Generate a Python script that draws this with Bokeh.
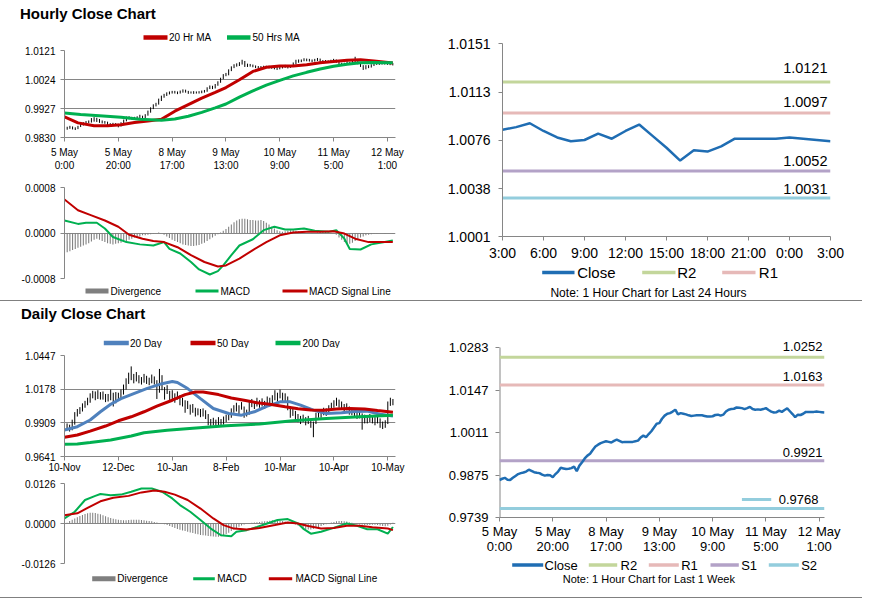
from bokeh.plotting import figure
from bokeh.models import Range1d, FixedTicker, Div, NumeralTickFormatter
from bokeh.layouts import column, row
from bokeh.embed import file_html
from bokeh.resources import INLINE
from bokeh.core.properties import value

FONT = "Liberation Sans"
AXIS = "#868686"
RED = "#C00000"
GREEN = "#00B050"
BLUE = "#4F81BD"
GRAY = "#7F7F7F"
CLOSE_BLUE = "#1F6DB3"
R2C, R1C, S1C, S2C = "#C3D69B", "#E6B9B8", "#B3A2C7", "#93CDDD"

# ---------------- hourly data (5 May 0:00 .. 12 May 3:00) ----------------
hourly_tick_idx = [0, 20, 40, 60, 80, 100, 120]
hourly_tick_labels = ["5 May\n0:00", "5 May\n20:00", "8 May\n17:00", "9 May\n13:00",
                      "10 May\n9:00", "11 May\n5:00", "12 May\n1:00"]
hourly_close = [
    0.9859, 0.9863, 0.9866, 0.9860, 0.9859, 0.9866, 0.9872, 0.9878, 0.9881, 0.9883,
    0.9886, 0.9892, 0.9888, 0.9884, 0.9882, 0.9881, 0.9876, 0.9873, 0.9875, 0.9874,
    0.9868, 0.9878, 0.9886, 0.9898, 0.9896, 0.9894, 0.9895, 0.9897, 0.9902, 0.9887,
    0.9905, 0.9916, 0.9928, 0.9937, 0.9943, 0.9955, 0.9966, 0.9972, 0.9977, 0.9980,
    0.9983, 0.9981, 0.9979, 0.9984, 0.9988, 0.9984, 0.9980, 0.9981, 0.9981, 0.9981,
    0.9981, 0.9983, 0.9985, 0.9995, 1.0001, 0.9996, 1.0006, 1.0015, 1.0027, 1.0039,
    1.0041, 1.0055, 1.0065, 1.0071, 1.0073, 1.0078, 1.0084, 1.0069, 1.0073, 1.0071,
    1.0069, 1.0066, 1.0064, 1.0065, 1.0066, 1.0066, 1.0066, 1.0064, 1.0062, 1.0062,
    1.0063, 1.0067, 1.0068, 1.0065, 1.0068, 1.0078, 1.0084, 1.0086, 1.0087, 1.0091,
    1.0090, 1.0089, 1.0086, 1.0089, 1.0093, 1.0086, 1.0084, 1.0085, 1.0084, 1.0086,
    1.0089, 1.0083, 1.0078, 1.0075, 1.0076, 1.0081, 1.0077, 1.0083, 1.0088, 1.0079,
    1.0070, 1.0060, 1.0068, 1.0067, 1.0071, 1.0077, 1.0077, 1.0077, 1.0077, 1.0078,
    1.0077, 1.0076, 1.0075]
hourly_high = [
    0.9863, 0.9866, 0.9869, 0.9867, 0.9864, 0.9869, 0.9876, 0.9881, 0.9885, 0.9887,
    0.9895, 0.9898, 0.9896, 0.9892, 0.9887, 0.9885, 0.9883, 0.9878, 0.9879, 0.9878,
    0.9876, 0.9881, 0.9890, 0.9900, 0.9901, 0.9899, 0.9899, 0.9901, 0.9906, 0.9903,
    0.9908, 0.9920, 0.9931, 0.9941, 0.9946, 0.9960, 0.9970, 0.9976, 0.9981, 0.9984,
    0.9986, 0.9986, 0.9984, 0.9987, 0.9991, 0.9990, 0.9986, 0.9984, 0.9985, 0.9984,
    0.9985, 0.9987, 0.9989, 0.9998, 1.0004, 1.0003, 1.0009, 1.0018, 1.0030, 1.0042,
    1.0046, 1.0058, 1.0068, 1.0075, 1.0078, 1.0082, 1.0090, 1.0086, 1.0077, 1.0076,
    1.0074, 1.0071, 1.0069, 1.0069, 1.0070, 1.0070, 1.0070, 1.0069, 1.0067, 1.0066,
    1.0067, 1.0071, 1.0073, 1.0070, 1.0072, 1.0081, 1.0090, 1.0091, 1.0091, 1.0095,
    1.0094, 1.0093, 1.0091, 1.0093, 1.0096, 1.0094, 1.0089, 1.0089, 1.0088, 1.0090,
    1.0093, 1.0091, 1.0085, 1.0080, 1.0080, 1.0085, 1.0083, 1.0087, 1.0100, 1.0090,
    1.0081, 1.0072, 1.0072, 1.0072, 1.0075, 1.0080, 1.0081, 1.0080, 1.0081, 1.0081,
    1.0081, 1.0080, 1.0079]
hourly_low = [
    0.9852, 0.9856, 0.9859, 0.9857, 0.9855, 0.9858, 0.9865, 0.9870, 0.9875, 0.9878,
    0.9880, 0.9883, 0.9882, 0.9879, 0.9877, 0.9876, 0.9872, 0.9869, 0.9870, 0.9869,
    0.9864, 0.9867, 0.9877, 0.9884, 0.9891, 0.9890, 0.9891, 0.9892, 0.9895, 0.9884,
    0.9886, 0.9903, 0.9913, 0.9925, 0.9934, 0.9940, 0.9952, 0.9963, 0.9969, 0.9974,
    0.9977, 0.9977, 0.9975, 0.9977, 0.9980, 0.9980, 0.9976, 0.9977, 0.9976, 0.9977,
    0.9977, 0.9978, 0.9980, 0.9983, 0.9992, 0.9992, 0.9994, 1.0003, 1.0013, 1.0025,
    1.0035, 1.0038, 1.0052, 1.0062, 1.0067, 1.0069, 1.0074, 1.0066, 1.0066, 1.0067,
    1.0065, 1.0062, 1.0060, 1.0061, 1.0062, 1.0062, 1.0061, 1.0060, 1.0058, 1.0056,
    1.0058, 1.0061, 1.0063, 1.0061, 1.0063, 1.0066, 1.0075, 1.0080, 1.0082, 1.0085,
    1.0085, 1.0084, 1.0082, 1.0084, 1.0086, 1.0082, 1.0080, 1.0080, 1.0079, 1.0081,
    1.0083, 1.0080, 1.0074, 1.0071, 1.0072, 1.0074, 1.0073, 1.0075, 1.0080, 1.0075,
    1.0066, 1.0056, 1.0058, 1.0062, 1.0064, 1.0069, 1.0073, 1.0073, 1.0074, 1.0074,
    1.0073, 1.0072, 1.0071]
ma20_h_x = [0, 5, 11, 16, 21, 26, 31, 36, 41, 46, 51, 56, 60, 65, 70, 75, 80, 85, 90, 95,
            100, 105, 110, 115, 122]
ma20_h = [0.9899, 0.9879, 0.9869, 0.9869, 0.9873, 0.9880, 0.9885, 0.9891, 0.9918, 0.9940,
          0.9962, 0.9981, 0.9997, 1.0023, 1.0051, 1.0065, 1.0069, 1.0069, 1.0073, 1.0080,
          1.0084, 1.0088, 1.0090, 1.0086, 1.0079]
ma50_h_x = [0, 6, 13, 21, 28, 36, 41, 46, 51, 56, 60, 65, 70, 75, 80, 85, 90, 95, 100, 105,
            110, 115, 122]
ma50_h = [0.9912, 0.9907, 0.9903, 0.9898, 0.9891, 0.9888, 0.9892, 0.9901, 0.9914, 0.9929,
          0.9942, 0.9965, 0.9986, 1.0005, 1.0021, 1.0036, 1.0048, 1.0059, 1.0068, 1.0075,
          1.0080, 1.0081, 1.0080]
macd_h_x = [0, 5, 8, 12, 15, 18, 23, 28, 33, 37, 39, 43, 47, 50, 54, 57, 59, 62, 65, 70,
            74, 78, 82, 85, 89, 93, 98, 101, 104, 106, 110, 114, 119, 122]
macd_h = [0.00022, 0.00016, 0.00018, 0.00018, 0.00008, -0.00007, -0.00016, -0.00020,
          -0.00022, -0.00016, -0.00028, -0.00036, -0.00051, -0.00064, -0.00073, -0.00067,
          -0.00057, -0.00039, -0.00022, -0.00011, 0.00005, 0.00011, 0.00006, 0.00006,
          0.00008, 0.00004, 0.00002, 0.00005, -0.00010, -0.00028, -0.00029, -0.00020,
          -0.00016, -0.00013]
sig_h_x = [0, 5, 10, 15, 20, 24, 29, 33, 37, 42, 47, 52, 57, 60, 65, 70, 75, 80, 85, 90,
           95, 100, 104, 108, 113, 122]
sig_h = [0.00059, 0.00040, 0.00031, 0.00022, 0.00011, -0.00003, -0.00010, -0.00014,
         -0.00016, -0.00025, -0.00039, -0.00051, -0.00059, -0.00057, -0.00045, -0.00030,
         -0.00016, -0.00004, 0.00001, 0.00002, 0.00002, 0.00003, -0.00001, -0.00010,
         -0.00016, -0.00016]
div_h = [
    -0.00036, -0.00034, -0.00032, -0.00030, -0.00028, -0.00026, -0.00024, -0.00022, -0.00020, -0.00018,
    -0.00015, -0.00012, -0.00010, -0.00012, -0.00014, -0.00016, -0.00018, -0.00019, -0.00020, -0.00019,
    -0.00018, -0.00017, -0.00016, -0.00014, -0.00012, -0.00010, -0.00008, -0.00007, -0.00006, -0.00004,
    -0.00004, -0.00003, -0.00002, -0.00001, 0.00000, 0.00001, 0.00000, -0.00003, -0.00006, -0.00009,
    -0.00012, -0.00014, -0.00016, -0.00018, -0.00020, -0.00021, -0.00022, -0.00023, -0.00023, -0.00022,
    -0.00021, -0.00019, -0.00017, -0.00014, -0.00011, -0.00008, -0.00005, -0.00002, 0.00001, 0.00004,
    0.00007, 0.00011, 0.00015, 0.00019, 0.00022, 0.00024, 0.00025, 0.00025, 0.00024, 0.00023,
    0.00023, 0.00022, 0.00022, 0.00023, 0.00021, 0.00018, 0.00015, 0.00011, 0.00008, 0.00005,
    0.00003, 0.00002, 0.00003, 0.00004, 0.00005, 0.00005, 0.00004, 0.00003, 0.00002, 0.00001,
    0.00000, 0.00000, -0.00001, 0.00000, 0.00001, 0.00002, 0.00002, 0.00002, 0.00001, 0.00000,
    0.00000, -0.00003, -0.00008, -0.00012, -0.00016, -0.00018, -0.00019, -0.00017, -0.00014, -0.00011,
    -0.00008, -0.00006, -0.00004, -0.00003, -0.00002, -0.00001, -0.00001, 0.00000, 0.00000, -0.00001,
    0.00000, 0.00000, -0.00001]

# ---------------- last 24 hours / last week levels ----------------
last24_labels = ["3:00", "6:00", "9:00", "12:00", "15:00", "18:00", "21:00", "0:00", "3:00"]
last24_close = [1.0084, 1.0086, 1.0089, 1.0083, 1.0078, 1.0075, 1.0076, 1.0081, 1.0077,
                1.0083, 1.0088, 1.0079, 1.0070, 1.0060, 1.0068, 1.0067, 1.0071, 1.0077,
                1.0077, 1.0077, 1.0077, 1.0078, 1.0077, 1.0076, 1.0075]
day_y_labels = ["1.0001", "1.0038", "1.0076", "1.0113", "1.0151"]
day_levels = {"R2": 1.0121, "R1": 1.0097, "S1": 1.0052, "S2": 1.0031}
week_y_labels = ["0.9739", "0.9875", "1.0011", "1.0147", "1.0283"]
week_levels = {"R2": 1.0252, "R1": 1.0163, "S1": 0.9921, "S2": 0.9768}

# ---------------- daily data (10 Nov .. 12 May) ----------------
daily_tick_idx = [0, 21, 42, 63, 84, 105, 126]
daily_tick_labels = ["10-Nov", "12-Dec", "10-Jan", "8-Feb", "10-Mar", "10-Apr", "10-May"]
daily_close = [
    0.9870, 0.9880, 0.9860, 0.9905, 0.9975, 0.9990, 1.0010, 1.0040, 1.0060, 1.0085,
    1.0120, 1.0140, 1.0125, 1.0150, 1.0120, 1.0135, 1.0100, 1.0110, 1.0150, 1.0080,
    1.0130, 1.0115, 1.0150, 1.0190, 1.0240, 1.0270, 1.0300, 1.0260, 1.0285, 1.0255,
    1.0245, 1.0270, 1.0250, 1.0240, 1.0265, 1.0250, 1.0160, 1.0280, 1.0200, 1.0150,
    1.0180, 1.0120, 1.0140, 1.0110, 1.0130, 1.0085, 1.0080, 1.0040, 1.0060, 1.0010,
    1.0030, 0.9990, 1.0000, 0.9985, 0.9995, 0.9975, 0.9930, 0.9910, 0.9920, 0.9900,
    0.9925, 0.9905, 0.9930, 0.9945, 0.9960, 0.9995, 1.0020, 1.0040, 1.0010, 1.0050,
    0.9975, 0.9990, 1.0050, 1.0070, 1.0045, 1.0080, 1.0060, 1.0075, 1.0050, 1.0090,
    1.0070, 1.0100, 1.0130, 1.0115, 1.0145, 1.0110, 1.0120, 1.0040, 0.9985, 1.0000,
    0.9960, 0.9950, 0.9930, 0.9945, 0.9920, 0.9935, 0.9905, 0.9840, 0.9960, 0.9980,
    0.9975, 1.0000, 0.9995, 1.0020, 1.0040, 1.0060, 1.0080, 1.0060, 1.0050, 1.0025,
    1.0040, 1.0005, 1.0000, 0.9985, 0.9970, 0.9980, 0.9890, 0.9945, 0.9935, 0.9950,
    0.9935, 0.9920, 0.9940, 0.9900, 0.9880, 0.9905, 1.0050, 1.0090, 1.0080]
daily_high = [
    0.9900, 0.9905, 0.9895, 0.9935, 0.9995, 1.0020, 1.0035, 1.0065, 1.0085, 1.0110,
    1.0145, 1.0165, 1.0160, 1.0170, 1.0155, 1.0160, 1.0140, 1.0140, 1.0175, 1.0150,
    1.0155, 1.0150, 1.0175, 1.0215, 1.0265, 1.0310, 1.0360, 1.0300, 1.0315, 1.0290,
    1.0275, 1.0300, 1.0285, 1.0270, 1.0295, 1.0280, 1.0250, 1.0340, 1.0290, 1.0195,
    1.0210, 1.0165, 1.0170, 1.0145, 1.0160, 1.0130, 1.0110, 1.0090, 1.0085, 1.0055,
    1.0060, 1.0030, 1.0025, 1.0020, 1.0025, 1.0010, 0.9980, 0.9940, 0.9950, 0.9935,
    0.9955, 0.9940, 0.9960, 0.9975, 0.9990, 1.0025, 1.0050, 1.0070, 1.0050, 1.0075,
    1.0040, 1.0015, 1.0080, 1.0100, 1.0080, 1.0110, 1.0090, 1.0105, 1.0085, 1.0120,
    1.0110, 1.0130, 1.0170, 1.0150, 1.0175, 1.0150, 1.0145, 1.0120, 1.0040, 1.0030,
    1.0005, 0.9980, 0.9965, 0.9975, 0.9955, 0.9965, 0.9935, 0.9920, 0.9990, 1.0010,
    1.0005, 1.0030, 1.0025, 1.0050, 1.0070, 1.0090, 1.0110, 1.0095, 1.0080, 1.0060,
    1.0065, 1.0040, 1.0030, 1.0015, 1.0000, 1.0010, 0.9985, 0.9975, 0.9965, 0.9980,
    0.9970, 0.9955, 0.9970, 0.9945, 0.9920, 0.9930, 1.0080, 1.0110, 1.0100]
daily_low = [
    0.9845, 0.9850, 0.9840, 0.9850, 0.9895, 0.9960, 0.9980, 1.0000, 1.0030, 1.0050,
    1.0070, 1.0105, 1.0090, 1.0100, 1.0095, 1.0095, 1.0075, 1.0080, 1.0090, 1.0040,
    1.0065, 1.0090, 1.0100, 1.0135, 1.0175, 1.0220, 1.0250, 1.0225, 1.0240, 1.0225,
    1.0215, 1.0230, 1.0220, 1.0210, 1.0225, 1.0215, 1.0100, 1.0150, 1.0170, 1.0095,
    1.0140, 1.0080, 1.0100, 1.0070, 1.0095, 1.0050, 1.0040, 0.9990, 1.0020, 0.9975,
    0.9990, 0.9960, 0.9970, 0.9955, 0.9960, 0.9940, 0.9890, 0.9880, 0.9890, 0.9870,
    0.9885, 0.9880, 0.9895, 0.9915, 0.9930, 0.9950, 0.9990, 1.0000, 0.9980, 1.0015,
    0.9950, 0.9960, 0.9975, 1.0035, 1.0020, 1.0040, 1.0030, 1.0040, 1.0020, 1.0045,
    1.0040, 1.0060, 1.0090, 1.0080, 1.0105, 1.0085, 1.0085, 1.0010, 0.9950, 0.9965,
    0.9930, 0.9915, 0.9900, 0.9915, 0.9890, 0.9900, 0.9870, 0.9795, 0.9900, 0.9950,
    0.9950, 0.9970, 0.9965, 0.9990, 1.0005, 1.0030, 1.0045, 1.0030, 1.0020, 0.9995,
    1.0010, 0.9975, 0.9970, 0.9955, 0.9940, 0.9945, 0.9855, 0.9905, 0.9905, 0.9915,
    0.9905, 0.9890, 0.9905, 0.9870, 0.9860, 0.9870, 0.9900, 1.0045, 1.0050]
ma20_d_x = [0, 5, 10, 14, 18, 22, 27, 32, 38, 42, 44, 48, 53, 58, 64, 69, 74, 79, 84, 88,
            92, 97, 102, 108, 113, 118, 123, 128]
ma20_d = [0.9852, 0.9879, 0.9932, 0.9998, 1.0058, 1.0103, 1.0143, 1.0183, 1.0222, 1.0240,
          1.0232, 1.0183, 1.0103, 1.0024, 0.9984, 0.9971, 0.9998, 1.0043, 1.0077, 1.0077,
          1.0051, 1.0011, 0.9984, 0.9990, 1.0000, 1.0003, 0.9978, 0.9965]
ma50_d_x = [0, 5, 10, 16, 21, 26, 31, 36, 42, 47, 51, 54, 60, 65, 70, 75, 80, 86, 91, 96,
            101, 106, 111, 117, 122, 128]
ma50_d = [0.9794, 0.9813, 0.9844, 0.9884, 0.9926, 0.9958, 0.9998, 1.0043, 1.0090, 1.0135,
          1.0156, 1.0156, 1.0135, 1.0108, 1.0090, 1.0070, 1.0058, 1.0038, 1.0022, 1.0013,
          1.0011, 1.0020, 1.0024, 1.0020, 1.0008, 0.9995]
ma200_d_x = [0, 5, 10, 18, 26, 31, 40, 50, 63, 76, 89, 102, 115, 128]
ma200_d = [0.9739, 0.9741, 0.9752, 0.9773, 0.9805, 0.9831, 0.9850, 0.9866, 0.9886, 0.9900,
           0.9926, 0.9945, 0.9958, 0.9971]
macd_d_x = [0, 4, 8, 12, 14, 18, 22, 26, 30, 34, 38, 42, 45, 49, 53, 57, 61, 65, 67, 71,
            75, 79, 83, 87, 91, 93, 96, 100, 104, 108, 110, 114, 118, 122, 126, 128]
macd_d = [0.0016, 0.0037, 0.0074, 0.0087, 0.0093, 0.0089, 0.0091, 0.0100, 0.0110, 0.0110,
          0.0100, 0.0079, 0.0058, 0.0037, 0.0011, -0.0016, -0.0037, -0.0040, -0.0026, -0.0021,
          -0.0011, 0.0000, 0.0011, 0.0014, 0.0000, -0.0016, -0.0032, -0.0026, -0.0016, -0.0005,
          0.0000, -0.0007, -0.0018, -0.0018, -0.0032, -0.0011]
sig_d_x = [0, 5, 9, 14, 19, 25, 30, 35, 39, 43, 48, 53, 58, 62, 66, 71, 76, 82, 87, 91,
           95, 100, 105, 110, 115, 120, 126, 128]
sig_d = [0.0026, 0.0032, 0.0049, 0.0070, 0.0081, 0.0087, 0.0098, 0.0104, 0.0100, 0.0091,
         0.0074, 0.0047, 0.0016, -0.0005, -0.0016, -0.0019, -0.0014, -0.0005, 0.0003, 0.0000,
         -0.0008, -0.0016, -0.0014, -0.0007, -0.0007, -0.0012, -0.0016, -0.0021]
div_d = [
    -0.0006, 0.0002, 0.0008, 0.0012, 0.0016, 0.0020, 0.0024, 0.0027, 0.0030, 0.0032,
    0.0034, 0.0034, 0.0033, 0.0031, 0.0029, 0.0026, 0.0023, 0.0020, 0.0017, 0.0015,
    0.0013, 0.0012, 0.0011, 0.0010, 0.0010, 0.0011, 0.0012, 0.0012, 0.0012, 0.0012,
    0.0011, 0.0010, 0.0009, 0.0008, 0.0007, 0.0005, 0.0003, 0.0001, 0.0000, -0.0002,
    -0.0005, -0.0008, -0.0011, -0.0014, -0.0017, -0.0020, -0.0022, -0.0024, -0.0026, -0.0028,
    -0.0030, -0.0032, -0.0034, -0.0036, -0.0037, -0.0038, -0.0039, -0.0040, -0.0041, -0.0042,
    -0.0042, -0.0040, -0.0037, -0.0033, -0.0029, -0.0024, -0.0019, -0.0014, -0.0010, -0.0006,
    -0.0003, -0.0001, 0.0001, 0.0002, 0.0003, 0.0004, 0.0005, 0.0006, 0.0007, 0.0008,
    0.0009, 0.0010, 0.0010, 0.0010, 0.0009, 0.0008, 0.0006, 0.0004, 0.0002, 0.0000,
    -0.0003, -0.0006, -0.0010, -0.0014, -0.0017, -0.0019, -0.0019, -0.0017, -0.0014, -0.0011,
    -0.0008, -0.0005, -0.0002, 0.0001, 0.0003, 0.0005, 0.0007, 0.0008, 0.0008, 0.0007,
    0.0006, 0.0004, 0.0002, 0.0000, -0.0002, -0.0003, -0.0004, -0.0005, -0.0005, -0.0005,
    -0.0004, -0.0004, -0.0005, -0.0006, -0.0008, -0.0009, -0.0007, -0.0003, 0.0002]

hourly_price_ticks = [0.9830, 0.9927, 1.0024, 1.0121]
hourly_macd_ticks = [-0.0008, 0.0, 0.0008]
daily_price_ticks = [0.9641, 0.9909, 1.0178, 1.0447]
daily_macd_ticks = [-0.0126, 0.0, 0.0126]


# ---------------- helpers ----------------
def base_fig(w, h, xr, yr, left, right, top, bottom):
    p = figure(width=w, height=h, x_range=xr, y_range=yr, output_backend="svg",
               toolbar_location=None, min_border_left=left, min_border_right=right,
               min_border_top=top, min_border_bottom=bottom)
    p.outline_line_color = None
    p.background_fill_color = "white"
    p.border_fill_color = "white"
    p.xgrid.grid_line_color = None
    p.ygrid.grid_line_color = None
    for ax in (p.xaxis[0], p.yaxis[0]):
        ax.axis_line_color = AXIS
        ax.major_tick_line_color = AXIS
        ax.minor_tick_line_color = None
        ax.major_tick_in = 0
        ax.major_tick_out = 4
        ax.major_label_text_font = FONT
        ax.major_label_text_color = "black"
    return p


def strip(w, h, fx0, fx1):
    # axis-free strip; its frame lines up with the charts' frames (fx0..fx1 in column pixels),
    # so x data = column pixels and y data = pixels from the strip top
    s = figure(width=w, height=h, x_range=Range1d(fx0, fx1), y_range=Range1d(h, 0),
               x_axis_location=None, y_axis_location=None,
               output_backend="svg", toolbar_location=None,
               min_border_left=fx0, min_border_right=w - fx1, min_border_top=0, min_border_bottom=0)
    s.grid.grid_line_color = None
    s.outline_line_color = None
    s.background_fill_color = "white"
    s.border_fill_color = "white"
    return s


def title_div(text, w, h, pad_top, pad_left):
    html = ('<div style="padding:%dpx 0 0 %dpx;font-family:\'Liberation Sans\',Arial,sans-serif;'
            'font-size:15px;font-weight:bold;line-height:15px;color:#000;white-space:nowrap;">'
            '%s</div>' % (pad_top, pad_left, text))
    return Div(text=html, width=w, height=h, margin=0)


def set_y(p, ticks, fsize, standoff, grid=False, labels=None):
    t = FixedTicker(ticks=ticks)
    p.yaxis.ticker = t
    p.yaxis.formatter = NumeralTickFormatter(format="0.0000")
    if labels:
        p.yaxis.major_label_overrides = {tk: s for tk, s in zip(ticks, labels)}
    p.yaxis.major_label_text_font_size = fsize
    p.yaxis.major_label_standoff = standoff
    if grid:
        p.ygrid.ticker = t
        p.ygrid.grid_line_color = AXIS


def set_x(p, ticks, labels, fsize, standoff):
    p.xaxis.ticker = FixedTicker(ticks=ticks)
    p.xaxis.major_label_overrides = {t: l for t, l in zip(ticks, labels)}
    p.xaxis.major_label_text_font_size = fsize
    p.xaxis.major_label_standoff = standoff


def strip_legend(s, entries, yc, fsize):
    # entries: (label, colour, key thickness, key start, key end, label start)
    for label, color, lw, kx0, kx1, tx in entries:
        s.segment(x0=[kx0], y0=[yc], x1=[kx1], y1=[yc], line_color=color,
                  line_width=lw, line_cap="butt")
        s.text(x=[tx], y=[yc], text=[label], text_font=value(FONT), text_font_size=fsize,
               text_baseline="middle", text_align="left", text_color="black")


def strip_text(s, text, x, y, fsize, align="center"):
    s.text(x=[x], y=[y], text=[text], text_font=value(FONT), text_font_size=fsize,
           text_align=align, text_baseline="middle", text_color="black")


# ================= block 1 =================
nh = len(hourly_close)
hx = list(range(nh))

tA = title_div("Hourly Close Chart", 420, 25, 6, 20)
sA = strip(420, 18, 64, 395)
strip_legend(sA, [("20 Hr MA", RED, 4.5, 143, 167, 168.5),
                  ("50 Hrs MA", GREEN, 4.5, 226.5, 250, 252)], 12, "10px")

pA = base_fig(420, 136, Range1d(0, nh), Range1d(hourly_price_ticks[0], hourly_price_ticks[-1]),
              64, 25, 7, 42)
set_y(pA, hourly_price_ticks, "10px", 5, grid=True)
set_x(pA, hourly_tick_idx, hourly_tick_labels, "10px", 5)
pA.segment(x0=hx, y0=hourly_low, x1=hx, y1=hourly_high, line_color="black", line_width=1)
pA.line(ma20_h_x, ma20_h, line_color=RED, line_width=3)
pA.line(ma50_h_x, ma50_h, line_color=GREEN, line_width=3)

pB = base_fig(420, 106, Range1d(0, nh), Range1d(hourly_macd_ticks[0], hourly_macd_ticks[-1]),
              64, 25, 8, 7)
set_y(pB, hourly_macd_ticks, "10px", 5, grid=True)
pB.xaxis.visible = False
pB.vbar(x=hx, top=div_h, bottom=0, width=0.4, fill_color=GRAY, line_color=None)
pB.line(macd_h_x, macd_h, line_color=GREEN, line_width=2)
pB.line(sig_h_x, sig_h, line_color=RED, line_width=2)

sB = strip(420, 15, 64, 395)
strip_legend(sB, [("Divergence", GRAY, 5, 85, 108, 110),
                  ("MACD", GREEN, 3, 195, 218, 220),
                  ("MACD Signal Line", RED, 3, 282, 307, 308.5)], 5.5, "10px")

n24 = len(last24_close)
x24 = list(range(n24))
day_ticks = [float(s) for s in day_y_labels]
lvl_col = {"R2": R2C, "R1": R1C, "S1": S1C, "S2": S2C}
pC = base_fig(450, 264, Range1d(0, n24 - 1), Range1d(day_ticks[0], day_ticks[-1]),
              82, 40, 43, 28)
set_y(pC, day_ticks, "14px", 8, labels=day_y_labels)
set_x(pC, list(range(0, n24, 3)), last24_labels, "14px", 4)
for k, v in day_levels.items():
    pC.line([0, n24 - 1], [v, v], line_color=lvl_col[k], line_width=3)
pC.line(x24, last24_close, line_color=CLOSE_BLUE, line_width=2.5)
pC.text(x=[n24 - 1] * 4, y=list(day_levels.values()),
        text=["%.4f" % v for v in day_levels.values()],
        text_align="right", text_baseline="bottom", x_offset=-3, y_offset=[-9, -6, -5, -4],
        text_font=value(FONT), text_font_size="14.5px", text_color="black")

sC = strip(450, 36, 82, 410)
strip_legend(sC, [("Close", CLOSE_BLUE, 3.5, 121.7, 154, 156.7),
                  ("R2", R2C, 3.5, 221.7, 255, 256.7),
                  ("R1", R1C, 3.5, 301.7, 335, 338.3)], 8, "15px")
strip_text(sC, "Note: 1 Hour Chart for Last 24 Hours", 228, 28.5, "12px")

# ================= block 2 =================
nd = len(daily_close)
dx = list(range(nd))

tD = title_div("Daily Close Chart", 420, 25, 5, 21)
sD = strip(420, 22, 64, 395)
strip_legend(sD, [("20 Day", BLUE, 4.5, 103.3, 128.3, 129.5),
                  ("50 Day", RED, 4.5, 190, 215, 216.5),
                  ("200 Day", GREEN, 4.5, 275, 300, 302)], 16.5, "10px")

pD = base_fig(420, 127, Range1d(0, nd), Range1d(daily_price_ticks[0], daily_price_ticks[-1]),
              64, 25, 7, 18)
set_y(pD, daily_price_ticks, "10px", 5, grid=True)
set_x(pD, daily_tick_idx, daily_tick_labels, "10px", 1)
pD.segment(x0=dx, y0=daily_low, x1=dx, y1=daily_high, line_color="black", line_width=1)
pD.line(ma20_d_x, ma20_d, line_color=BLUE, line_width=3)
pD.line(ma50_d_x, ma50_d, line_color=RED, line_width=3)
pD.line(ma200_d_x, ma200_d, line_color=GREEN, line_width=3)

pE = base_fig(420, 95, Range1d(0, nd), Range1d(daily_macd_ticks[0], daily_macd_ticks[-1]),
              64, 25, 8, 7)
set_y(pE, daily_macd_ticks, "10px", 5, grid=True)
pE.xaxis.visible = False
pE.vbar(x=dx, top=div_d, bottom=0, width=0.4, fill_color=GRAY, line_color=None)
pE.line(macd_d_x, macd_d, line_color=GREEN, line_width=2)
pE.line(sig_d_x, sig_d, line_color=RED, line_width=2)

sE = strip(420, 27, 64, 395)
strip_legend(sE, [("Divergence", GRAY, 5, 91.7, 115, 116.7),
                  ("MACD", GREEN, 3, 192.7, 214.3, 216.7),
                  ("MACD Signal Line", RED, 3, 268.3, 291.7, 295)], 8.3, "10px")

week_ticks = [float(s) for s in week_y_labels]
week_pad = (week_ticks[-1] - week_ticks[0]) * 8 / 170
pF = base_fig(450, 256, Range1d(0, nh - 1), Range1d(week_ticks[0], week_ticks[-1] + week_pad),
              79, 46, 38, 40)
set_y(pF, week_ticks, "13px", 7, labels=week_y_labels)
pF.yaxis.axis_line_color = None
pF.segment(x0=[0], y0=[week_ticks[0]], x1=[0], y1=[week_ticks[-1]], line_color=AXIS, line_width=2)
set_x(pF, hourly_tick_idx, hourly_tick_labels, "13px", 2)
pF.xaxis.major_label_text_line_height = 1.0
for k, v in week_levels.items():
    pF.line([0, nh - 1], [v, v], line_color=lvl_col[k], line_width=3)
pF.line(hx, hourly_close, line_color=CLOSE_BLUE, line_width=2.5)
pF.text(x=[nh - 1] * 4, y=list(week_levels.values()),
        text=["%.4f" % v for v in week_levels.values()],
        text_align="right", text_baseline="bottom", x_offset=[-2, -2, -2, -6],
        y_offset=[-6, -4, -4, -4],
        text_font=value(FONT), text_font_size="13px", text_color="black")
pF.segment(x0=[nh - 1 - 31], y0=[week_levels["S2"] + 0.0029], x1=[nh - 1 - 20],
           y1=[week_levels["S2"] + 0.0029], line_color=S2C, line_width=3)

sF = strip(450, 40, 79, 404)
strip_legend(sF, [("Close", CLOSE_BLUE, 3.5, 91.7, 122.7, 124),
                  ("R2", R2C, 3.5, 168.3, 196.7, 200),
                  ("R1", R1C, 3.5, 228.3, 258.3, 260.7),
                  ("S1", S1C, 3.5, 290, 318.3, 320.7),
                  ("S2", S2C, 3.5, 348.3, 378.3, 380.7)], 7.5, "13px")
strip_text(sF, "Note: 1 Hour Chart for Last 1 Week", 228.3, 21.3, "11px")

sep1 = Div(width=862, height=1, margin=0, styles={"background-color": "#808080"})
sep2 = Div(width=862, height=1, margin=0, styles={"background-color": "#808080"})

layout = column(row(column(tA, sA, pA, pB, sB), column(pC, sC)), sep1,
                row(column(tD, sD, pD, pE, sE), column(pF, sF)), sep2)
open("out.html", "w").write(file_html(layout, INLINE))
